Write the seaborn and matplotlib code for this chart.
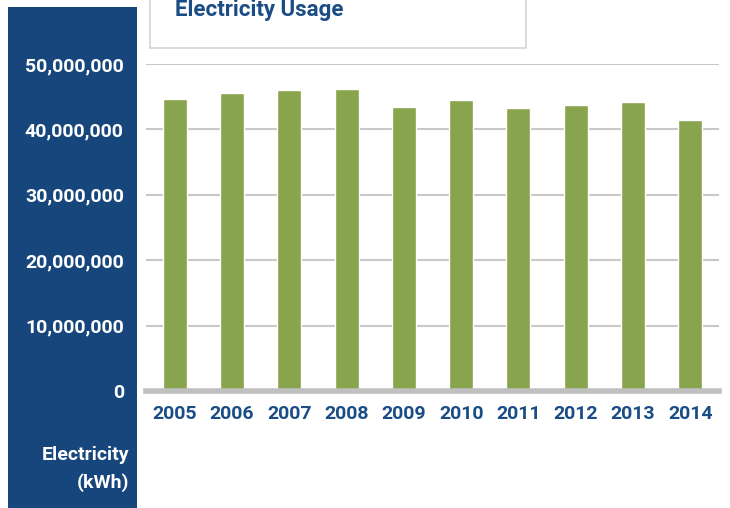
import matplotlib
matplotlib.use("Agg")
import matplotlib.pyplot as plt
import matplotlib.patches as mpatches
import pandas as pd
import seaborn as sns
from matplotlib.ticker import FuncFormatter

years = ["2005", "2006", "2007", "2008", "2009", "2010", "2011", "2012", "2013", "2014"]
usage_kwh = [44650000, 45550000, 46000000, 46200000, 43400000,
             44500000, 43300000, 43700000, 44200000, 41400000]
y_ticks = [0, 10000000, 20000000, 30000000, 40000000, 50000000]

NAVY = "#16467b"
LABEL_BLUE = "#1a4d85"
GREEN = "#88a44d"

sns.set_style("white")
plt.rcParams["font.family"] = ["Roboto", "DejaVu Sans"]

df = pd.DataFrame({"year": years, "usage": usage_kwh})

fig = plt.figure(figsize=(7.3, 5.08), dpi=100)
W, H = 730, 508

# blue panel on the left
fig.patches.append(mpatches.Rectangle((8 / W, 0), 129 / W, 501 / H, transform=fig.transFigure,
                                      facecolor=NAVY, edgecolor="none", zorder=-5))
# title box, cut at the top
fig.patches.append(mpatches.Rectangle((150 / W, (H - 48) / H), 376 / W, 60 / H, transform=fig.transFigure,
                                      facecolor="white", edgecolor="#d4d4d4", linewidth=1.2, zorder=-4))
fig.text(175 / W, (H - 16) / H, "Electricity Usage", color=LABEL_BLUE, fontsize=16,
         fontweight="bold", ha="left", va="baseline")

ax = fig.add_axes([146 / W, (H - 391) / H, 573 / W, 327 / H])
ax.set_zorder(2)
sns.barplot(data=df, x="year", y="usage", color=GREEN, saturation=1, width=0.42, ax=ax, zorder=3)

ax.set_ylim(0, 50000000)
ax.set_xlim(-0.5, len(years) - 0.5)
ax.set_yticks(y_ticks)
ax.yaxis.set_major_formatter(FuncFormatter(lambda v, p: f"{int(v):,}"))
ax.set_facecolor("none")
ax.grid(axis="y", color="#c8c8c8", linewidth=1.5, zorder=0)
ax.set_axisbelow(True)
for s in ["top", "right", "left"]:
    ax.spines[s].set_visible(False)
ax.spines["bottom"].set_color("#c0c0c0")
ax.spines["bottom"].set_linewidth(4)
ax.spines["bottom"].set_zorder(4)
ax.tick_params(axis="y", length=0, pad=16, labelsize=14, labelcolor="white")
ax.tick_params(axis="x", length=0, pad=10, labelsize=14, labelcolor=LABEL_BLUE)
for lab in ax.get_yticklabels() + ax.get_xticklabels():
    lab.set_fontweight("bold")
ax.set_xlabel("")
ax.set_ylabel("")

fig.text(129 / W, (H - 469) / H, "Electricity\n(kWh)", color="white", fontsize=14,
         fontweight="bold", ha="right", va="center", linespacing=1.6)

fig.savefig("out.png", dpi=100)
